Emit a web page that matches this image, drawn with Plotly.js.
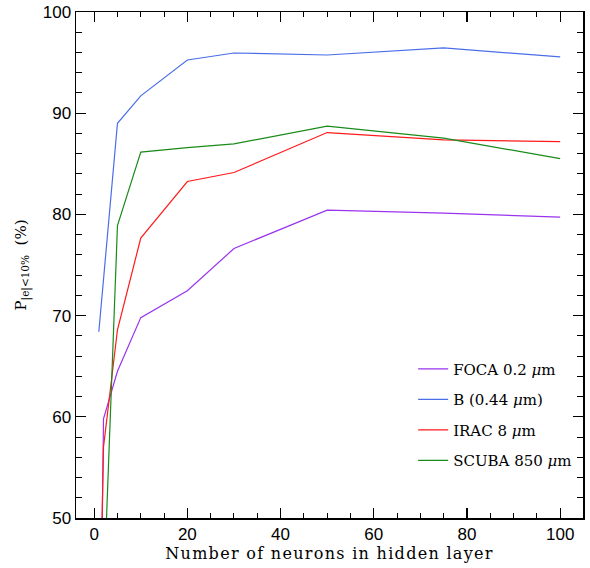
<!DOCTYPE html>
<html>
<head>
<meta charset="utf-8">
<script src="https://cdn.plot.ly/plotly-3.0.1.min.js"></script>
<style>
html,body{margin:0;padding:0;background:#fff;}
#chart{width:590px;height:568px;}
#chart .xtitle{letter-spacing:1.3px;}
</style>
</head>
<body>
<div id="chart"></div>
<script>
// Data
const focaX = [1, 2, 5, 10, 20, 30, 50, 75, 100];
const focaY = [20.6, 59.8, 64.5, 69.8, 72.45, 76.63, 80.42, 80.13, 79.73];

const bX = [1, 5, 10, 20, 30, 50, 75, 100];
const bY = [68.4, 89.0, 91.71, 95.26, 95.95, 95.75, 96.45, 95.56];

const iracX = [1, 2, 5, 10, 20, 30, 50, 75, 100];
const iracY = [34.0, 57.0, 68.6, 77.66, 83.25, 84.14, 88.09, 87.36, 87.2];

const scubaX = [2, 5, 10, 20, 30, 50, 75, 100];
const scubaY = [42.0, 78.9, 86.15, 86.6, 86.97, 88.72, 87.53, 85.52];

const seriesNames = ["FOCA 0.2 <i>μ</i>m", "B (0.44 <i>μ</i>m)", "IRAC 8 <i>μ</i>m", "SCUBA 850 <i>μ</i>m"];
const seriesColors = ["#9933ee", "#4a6ee8", "#ff1a1a", "#1a8a1a"];

const xs = [focaX, bX, iracX, scubaX];
const ys = [focaY, bY, iracY, scubaY];

const traces = xs.map((x, i) => ({
  x: x, y: ys[i], type: 'scatter', mode: 'lines',
  name: seriesNames[i], legendgroup: 'g' + i,
  line: {color: seriesColors[i], width: 1.2},
  cliponaxis: true
}));

const axisCommon = {
  showline: true, linecolor: '#000', linewidth: 1.5, mirror: 'allticks',
  ticks: 'inside', ticklen: 10, tickwidth: 1.2, tickcolor: '#000',
  showgrid: false, zeroline: false,
  tickfont: {family: 'Liberation Sans, Arial, sans-serif', size: 17, color: '#000'}
};

const layout = {
  width: 590, height: 568,
  margin: {l: 76, r: 7, t: 12, b: 50},
  paper_bgcolor: '#fff', plot_bgcolor: '#fff',
  showlegend: true,
  xaxis: Object.assign({}, axisCommon, {
    range: [-3.9, 104.9], tickvals: [0, 20, 40, 60, 80, 100],
    minor: {dtick: 5, tick0: 0, ticks: 'inside', ticklen: 5, tickcolor: '#000', tickwidth: 1},
    title: {text: 'Number of neurons in hidden layer', standoff: 5,
      font: {family: 'DejaVu Serif, serif', size: 16, color: '#000'}}
  }),
  yaxis: Object.assign({}, axisCommon, {
    range: [50, 100], tickvals: [50, 60, 70, 80, 90, 100],
    minor: {dtick: 2, tick0: 50, ticks: 'inside', ticklen: 6, tickcolor: '#000', tickwidth: 1},
    title: {text: 'P<sub>|e|&lt;10%</sub>  (%)', standoff: 12,
      font: {family: 'DejaVu Serif, serif', size: 15, color: '#000'}}
  }),
  legend: {
    x: 0.665, y: 0.327, xanchor: 'left', yanchor: 'top',
    bgcolor: 'rgba(0,0,0,0)', borderwidth: 0,
    tracegroupgap: 8, itemwidth: 30,
    font: {family: 'DejaVu Serif, serif', size: 15, color: '#000'}
  }
};

Plotly.newPlot('chart', traces, layout, {displayModeBar: false, staticPlot: true});
</script>
</body>
</html>
